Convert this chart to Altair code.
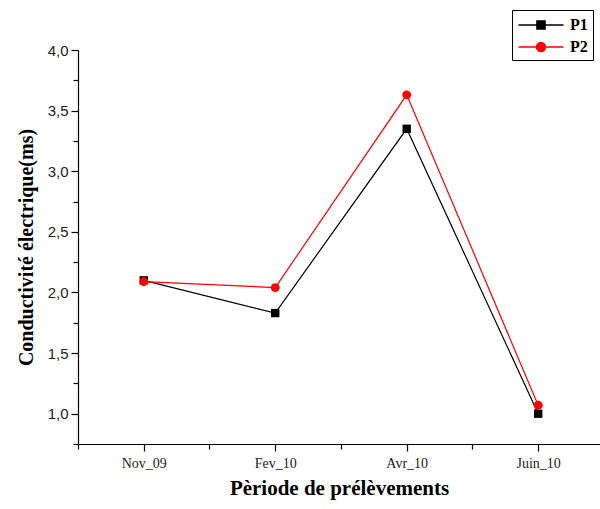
import altair as alt
import pandas as pd

periods = ["Nov_09", "Fev_10", "Avr_10", "Juin_10"]
p1 = [2.10, 1.83, 3.35, 1.00]
p2 = [2.09, 2.04, 3.63, 1.07]
series_names = ["P1", "P2"]
series_colors = ["#000000", "#ff0000"]

rows = []
for i, p in enumerate(periods):
    rows.append({"idx": i, "period": p, "series": "P1", "value": p1[i]})
for i, p in enumerate(periods):
    rows.append({"idx": i, "period": p, "series": "P2", "value": p2[i]})
df = pd.DataFrame(rows)

serif = "Liberation Serif"
sans = "Liberation Sans"

arr = "[" + ",".join("'" + p + "'" for p in periods) + "]"
x_label_expr = f"datum.value % 1 == 0 ? {arr}[datum.value] : ''"

x_enc = alt.X(
    "idx:Q",
    scale=alt.Scale(domain=[-0.5, 3.47], nice=False, zero=False),
    axis=alt.Axis(
        values=[-0.5, 0, 0.5, 1, 1.5, 2, 2.5, 3],
        labelExpr=x_label_expr,
        tickSize={"condition": {"test": "datum.value % 1 == 0", "value": 7}, "value": 5},
        tickColor="black",
        domainColor="black",
        tickWidth=1.2,
        domainWidth=1.2,
        grid=False,
        labelFont=serif,
        labelFontSize=14,
        labelColor="#222",
        labelPadding=5,
        title="Pèriode de prélèvements",
        titleFont=serif,
        titleFontSize=21,
        titleFontWeight="bold",
        titleColor="black",
        titlePadding=7,
    ),
)

y_enc = alt.Y(
    "value:Q",
    scale=alt.Scale(domain=[0.75, 4.0], nice=False, zero=False),
    axis=alt.Axis(
        values=[0.75, 1.0, 1.25, 1.5, 1.75, 2.0, 2.25, 2.5, 2.75, 3.0, 3.25, 3.5, 3.75, 4.0],
        labelExpr="datum.value % 0.5 == 0 ? replace(format(datum.value, '.1f'), '.', ',') : ''",
        tickSize={"condition": {"test": "datum.value % 0.5 == 0", "value": 7}, "value": 5},
        tickColor="black",
        domainColor="black",
        tickWidth=1.2,
        domainWidth=1.2,
        grid=False,
        labelFont=sans,
        labelFontSize=15,
        labelColor="#222",
        labelPadding=3,
        title="Conductivité électrique(ms)",
        titleFont=serif,
        titleFontSize=20,
        titleFontWeight="bold",
        titleColor="black",
        titlePadding=11,
    ),
)

color_scale = alt.Scale(domain=series_names, range=series_colors)
legend = alt.Legend(
    orient="none",
    legendX=434,
    legendY=-40,
    title=None,
    strokeColor="black",
    padding=5,
    labelFont=serif,
    labelFontWeight="bold",
    labelFontSize=16,
    labelColor="black",
    symbolSize=324,
    symbolStrokeWidth=1.5,
    symbolOffset=14,
    labelOffset=19,
    rowPadding=4,
)

base = alt.Chart(df)

lines = base.mark_line(strokeWidth=1.2).encode(
    x=x_enc,
    y=y_enc,
    color=alt.Color("series:N", scale=color_scale, legend=legend),
)

pts_p1 = base.transform_filter("datum.series == 'P1'").mark_point(
    filled=True, shape="square", size=70, opacity=1
).encode(x=x_enc, y=y_enc, color=alt.Color("series:N", scale=color_scale, legend=legend))

pts_p2 = base.transform_filter("datum.series == 'P2'").mark_point(
    filled=True, shape="circle", size=80, opacity=1
).encode(x=x_enc, y=y_enc, color=alt.Color("series:N", scale=color_scale, legend=legend))

sq = "M-2.5,0H2.5M-0.45,-0.45H0.45V0.45H-0.45Z"
ci = "M-2.5,0H2.5M0.5,0A0.5,0.5 0 1 1 -0.5,0A0.5,0.5 0 1 1 0.5,0Z"

legend_layer = base.transform_filter("datum.value < -100").mark_point(
    filled=True, opacity=1, strokeWidth=1.5
).encode(
    x=x_enc,
    y=y_enc,
    color=alt.Color("series:N", scale=color_scale, legend=legend),
    stroke=alt.Stroke("series:N", scale=color_scale, legend=legend),
    shape=alt.Shape("series:N", scale=alt.Scale(domain=series_names, range=[sq, ci]), legend=legend),
)

chart = (
    alt.layer(lines, pts_p1, pts_p2, legend_layer)
    .properties(
        width=522,
        height=394,
        autosize=alt.AutoSizeParams(type="none"),
        padding={"left": 78, "top": 50, "right": 0, "bottom": 65},
        background="white",
    )
    .configure_view(stroke=None)
)

chart.save("out.html", embed_options={"renderer": "svg", "actions": False})
